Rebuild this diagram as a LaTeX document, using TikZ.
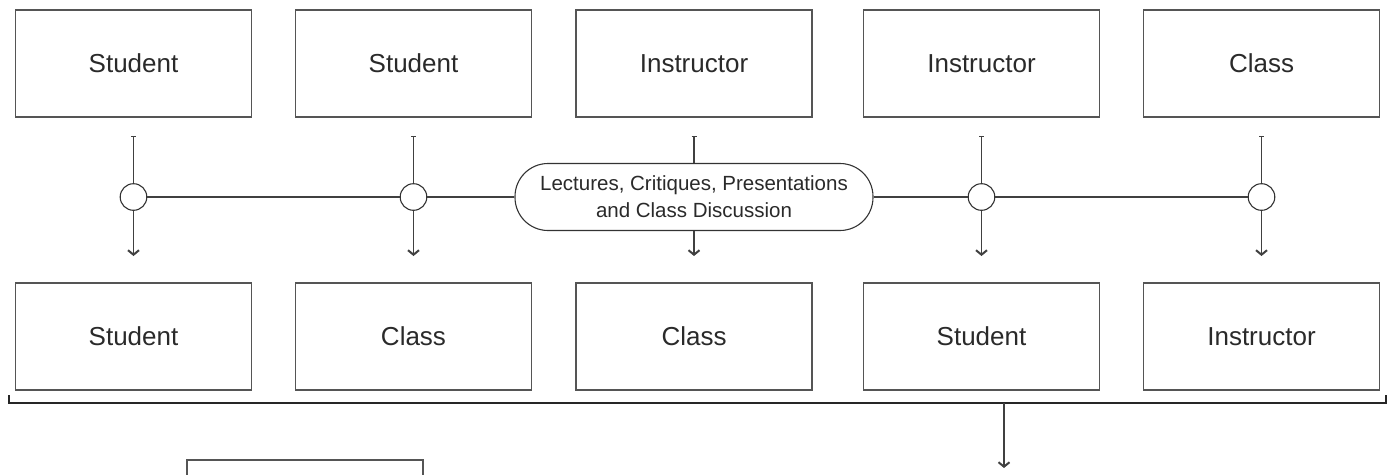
\documentclass[tikz,border=0pt]{standalone}
\usepackage{fontspec}
\setmainfont{Liberation Sans}
\usetikzlibrary{arrows.meta}
\definecolor{edge}{HTML}{555555}
\definecolor{ink}{HTML}{2A2A2A}
\begin{document}
\begin{tikzpicture}[x=1pt,y=-1pt,
  box/.style={draw=edge, line width=1.2pt, minimum width=236pt, minimum height=107pt,
    inner sep=0pt, text=ink, font=\fontsize{26}{30}\selectfont},
  circ/.style={draw=black!80, fill=white, line width=1.1pt, circle, minimum size=26.6pt, inner sep=0pt},
  pill/.style={draw=black!80, fill=white, line width=1.1pt, rectangle, rounded corners=33pt,
    minimum width=358pt, minimum height=67pt, inner sep=0pt, align=center, text=ink,
    font=\fontsize{20.5}{27}\selectfont},
  conn/.style={draw=black!75, line width=1.3pt},
  arr/.style={conn, -{Straight Barb[length=4.5pt,width=11pt,line width=2pt]}},
  tick/.style={conn, {Bar[width=5pt,line width=1.3pt]}-}
]
\useasboundingbox (0,0) rectangle (1395,474);

% top boxes
\node[box] (T1) at (133.5,63.5) {Student};
\node[box] (T2) at (413.5,63.5) {Student};
\node[box] (T3) at (694,63.5) {Instructor};
\node[box] (T4) at (981.5,63.5) {Instructor};
\node[box] (T5) at (1261.5,63.5) {Class};

% bottom boxes
\node[box] (B1) at (133.5,336.5) {Student};
\node[box] (B2) at (413.5,336.5) {Class};
\node[box] (B3) at (694,336.5) {Class};
\node[box] (B4) at (981.5,336.5) {Student};
\node[box] (B5) at (1261.5,336.5) {Instructor};

% partly visible box at the bottom
\node[box] (X) at (305,513.5) {};

% junctions
\node[circ] (C1) at (133.5,197) {};
\node[circ] (C2) at (413.5,197) {};
\node[pill] (L) at (694,197) {Lectures, Critiques, Presentations\\and Class Discussion};
\node[circ] (C4) at (981.5,197) {};
\node[circ] (C5) at (1261.5,197) {};

% horizontal line
\draw[conn] (C1) -- (C2);
\draw[conn] (C2) -- (L);
\draw[conn] (L) -- (C4);
\draw[conn] (C4) -- (C5);

% vertical connectors
\foreach \n/\x in {1/133.5,2/413.5,4/981.5,5/1261.5}{
  \coordinate (s\n) at (\x,136);
  \coordinate (e\n) at (\x,256);
  \draw[tick] (s\n) -- (C\n.north);
  \draw[arr] (C\n.south) -- (e\n);
}
\coordinate (s3) at (694,136);
\coordinate (e3) at (694,256);
\draw[tick] (s3) -- (L.north);
\draw[arr] (L.south) -- (e3);

% bracket
\coordinate (bl) at (9,395);
\coordinate (bl2) at (9,403);
\coordinate (br2) at (1386,403);
\coordinate (br) at (1386,395);
\draw[conn, line width=1.4pt, draw=black!85] (bl) -- (bl2) -- (br2) -- (br);
\coordinate (bm) at (1004,403);
\coordinate (be) at (1004,468);
\draw[arr] (bm) -- (be);
\end{tikzpicture}
\end{document}
